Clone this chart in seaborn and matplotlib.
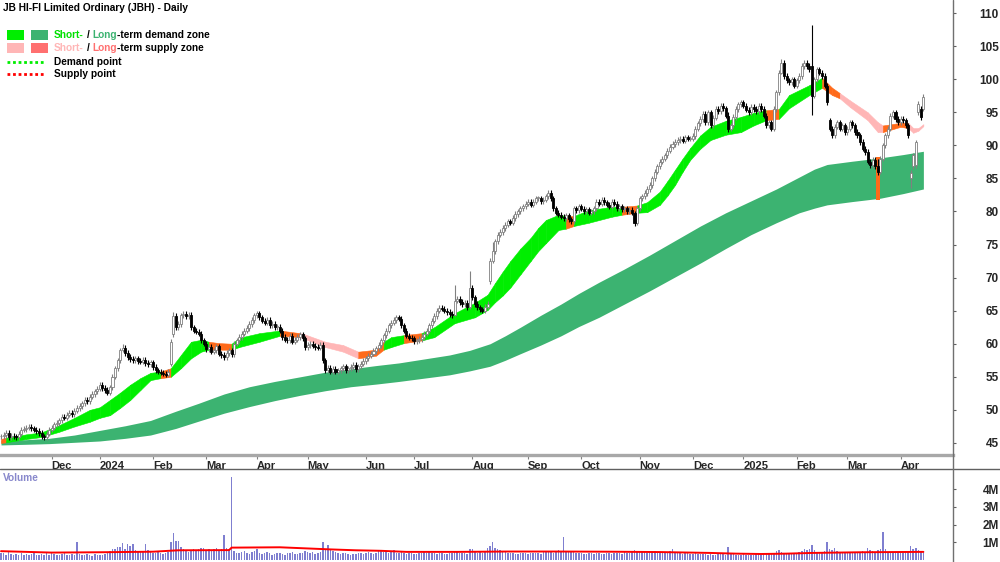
import numpy as np
import pandas as pd
import matplotlib
matplotlib.use('Agg')
import matplotlib.pyplot as plt
import seaborn as sns
from matplotlib.lines import Line2D
from matplotlib.patches import Rectangle

# --- DATA ---
START, END = '2023-11-03', '2025-04-14'
ASX_HOLIDAYS = ['2023-12-25', '2023-12-26', '2024-01-01', '2024-01-26', '2024-03-29',
                '2024-04-01', '2024-04-25', '2024-06-10', '2024-12-25', '2024-12-26',
                '2025-01-01', '2025-01-27']

# daily closes (AUD)
closes = [
    46.0, 46.2, 46.5, 45.9, 46.1, 46.0, 45.9, 46.4, 47.0, 47.1,
    47.3, 47.4, 47.2, 47.0, 46.8, 46.5, 46.0, 45.9, 46.4, 47.0,
    47.3, 47.8, 48.0, 48.4, 49.0, 48.8, 49.3, 49.6, 49.4, 49.9,
    50.3, 50.6, 51.0, 51.5, 51.3, 52.0, 52.4, 52.8, 53.2, 53.8,
    53.3, 53.0, 52.6, 53.4, 55.0, 56.3, 57.5, 59.0, 59.4, 58.6,
    58.0, 57.7, 57.5, 57.8, 57.4, 57.3, 57.6, 57.1, 56.9, 57.2,
    56.5, 56.0, 55.8, 55.6, 55.5, 55.3, 55.8, 60.3, 64.2, 62.5,
    63.0, 64.3, 64.5, 64.2, 64.4, 62.5, 62.0, 61.8, 61.5, 60.5,
    60.0, 59.2, 59.5, 58.8, 59.0, 59.6, 58.5, 58.3, 58.0, 58.6,
    59.0, 58.4, 60.0, 60.5, 61.0, 61.5, 62.0, 62.4, 63.0, 63.6,
    64.3, 64.6, 64.0, 63.5, 63.2, 63.6, 62.8, 63.0, 62.5, 62.6,
    62.0, 61.0, 60.6, 60.5, 61.2, 60.3, 60.6, 61.0, 61.4, 60.8,
    59.5, 59.8, 60.0, 59.7, 59.5, 59.4, 59.8, 57.5, 56.0, 56.4,
    55.8, 56.2, 55.8, 56.0, 56.3, 56.6, 56.0, 56.3, 56.5, 56.8,
    56.2, 56.6, 57.0, 57.4, 57.8, 58.2, 58.5, 58.9, 59.3, 59.8,
    60.5, 61.3, 62.0, 62.8, 63.2, 63.6, 64.0, 63.8, 62.8, 62.0,
    61.2, 60.9, 60.8, 60.4, 60.5, 60.7, 61.0, 61.5, 62.0, 62.8,
    63.5, 64.2, 65.0, 65.4, 65.3, 65.0, 64.8, 64.5, 64.3, 66.5,
    66.8, 66.3, 66.0, 66.2, 65.5, 68.5, 67.0, 66.0, 65.5, 65.2,
    65.0, 65.6, 66.0, 72.5, 74.0, 75.5, 76.5, 76.9, 77.5, 78.0,
    78.5, 78.3, 79.0, 79.6, 80.0, 80.5, 80.8, 81.2, 81.5, 81.0,
    81.5, 82.0, 82.0, 81.6, 81.8, 82.3, 82.8, 82.0, 80.5, 79.8,
    79.5, 79.2, 79.0, 79.4, 78.8, 78.5, 80.5, 80.2, 80.8, 80.4,
    80.0, 80.3, 79.8, 80.0, 80.5, 81.5, 81.2, 81.8, 81.4, 81.0,
    80.7, 81.5, 81.2, 80.5, 80.8, 80.3, 80.5, 80.0, 80.2, 79.8,
    78.3, 80.5, 82.0, 82.3, 82.8, 83.4, 84.0, 85.0, 86.0, 86.8,
    87.5, 88.0, 88.5, 89.2, 89.8, 90.2, 90.5, 90.8, 91.0, 90.7,
    91.2, 91.0, 91.0, 91.4, 92.5, 93.3, 94.0, 94.8, 93.5, 95.0,
    93.0, 94.2, 95.5, 95.2, 96.0, 95.6, 94.5, 92.5, 93.0, 94.3,
    95.5, 96.2, 96.5, 96.0, 95.4, 95.0, 95.8, 95.5, 95.2, 96.0,
    95.5, 94.5, 93.0, 93.5, 92.5, 95.5, 98.0, 101.0, 102.5, 100.5,
    99.8, 99.5, 100.0, 99.0, 99.8, 100.5, 102.0, 102.5, 102.0, 101.5,
    97.5, 100.0, 101.5, 101.0, 100.5, 99.0, 96.5, 92.5, 91.5, 92.8,
    93.5, 92.5, 93.0, 92.0, 92.5, 93.5, 93.0, 92.0, 91.5, 90.5,
    89.5, 89.0, 87.5, 87.0, 87.8, 86.8, 86.0, 88.0, 90.0, 91.5,
    92.5, 94.5, 95.0, 94.0, 93.5, 94.0, 93.8, 93.0, 91.5, 85.8,
    88.5, 90.5, 96.3, 94.3, 97.3,
]
# opens that gapped away from the prior close
gap_opens = {67: 57.0, 68: 61.5, 193: 69.5, 320: 102.0, 327: 93.8, 359: 85.0,
             360: 86.8, 361: 87.0, 362: 95.0, 363: 95.5, 364: 95.5}
# notable highs / lows
range_marks = {48: (59.9, 58.8), 68: (64.8, 61.0), 179: (68.9, 64.2), 185: (71.0, 65.3),
               194: (75.4, 72.2), 250: (80.0, 77.8), 287: (95.0, 92.0), 308: (103.0, 100.8),
               320: (108.2, 94.6), 346: (88.0, 85.5), 359: (86.3, 83.5), 361: (90.8, 86.5),
               364: (97.8, 95.2)}

# daily volume, thousands of shares
volume_k = [
    420, 380, 310, 450, 330, 290, 360, 300, 410, 270, 350, 280, 320, 390, 300, 260, 340, 310, 420, 290,
    380, 330, 300, 280, 350, 420, 310, 290, 360, 300, 1000, 330, 280, 300, 350, 270, 240, 320, 290, 260,
    310, 360, 420, 500, 610, 650, 750, 720, 980, 640, 900, 820, 880, 560, 480, 520, 430, 900, 560, 470,
    420, 380, 450, 400, 360, 420, 480, 1000, 1500, 1100, 1100, 760, 600, 520, 480, 560, 620, 540, 600, 660,
    700, 580, 640, 560, 620, 680, 540, 600, 1400, 700, 620, 4700, 500, 420, 380, 460, 520, 400, 360, 440,
    520, 620, 380, 340, 420, 460, 380, 300, 350, 420, 380, 340, 300, 410, 380, 460, 360, 330, 380, 420,
    520, 440, 380, 460, 360, 400, 480, 1000, 650, 850, 600, 520, 460, 400, 360, 420, 380, 340, 300, 360,
    330, 380, 420, 360, 400, 460, 380, 340, 420, 500, 560, 480, 440, 400, 500, 560, 420, 380, 460, 400,
    360, 420, 380, 320, 350, 400, 380, 440, 420, 460, 400, 380, 350, 420, 380, 340, 360, 400, 380, 520,
    460, 420, 380, 400, 360, 620, 650, 480, 420, 440, 400, 480, 700, 820, 1000, 700, 620, 560, 480, 440,
    420, 380, 400, 360, 340, 420, 380, 400, 360, 380, 420, 400, 380, 360, 440, 480, 520, 460, 420, 480,
    560, 480, 1300, 520, 460, 440, 500, 420, 380, 400, 360, 340, 400, 380, 360, 420, 380, 360, 340, 400,
    380, 360, 400, 420, 380, 360, 440, 420, 400, 460, 560, 500, 480, 440, 460, 420, 500, 480, 520, 460,
    440, 420, 480, 460, 500, 650, 440, 420, 380, 360, 400, 380, 340, 360, 380, 340, 320, 360, 340, 300,
    320, 280, 300, 340, 320, 360, 300, 750, 340, 320, 280, 260, 300, 320, 280, 260, 300, 280, 320, 340,
    300, 320, 360, 340, 380, 420, 500, 560, 480, 420, 380, 400, 360, 380, 420, 460, 500, 650, 560, 600,
    850, 560, 480, 440, 420, 500, 1000, 650, 560, 700, 520, 440, 400, 380, 420, 460, 400, 380, 440, 480,
    520, 460, 700, 560, 500, 460, 560, 600, 1600, 620, 480, 420, 400, 440, 380, 420, 400, 460, 520, 800,
    620, 700, 560, 480, 440,
]
# average volume line (trading-day index, millions)
avg_day = [0, 20, 40, 60, 70, 90, 91, 110, 120, 130, 140, 150, 160, 180, 200, 220, 240,
           260, 280, 290, 300, 310, 320, 330, 340, 364]
avg_vol = [0.50, 0.42, 0.44, 0.47, 0.55, 0.56, 0.70, 0.72, 0.66, 0.60, 0.55, 0.52, 0.46,
           0.46, 0.48, 0.48, 0.47, 0.45, 0.40, 0.36, 0.34, 0.36, 0.40, 0.42, 0.44, 0.46]

# short-term zone: day, upper, lower, zone type of the stretch that starts there
st_day = [0, 2, 10, 16, 23, 29, 35, 39, 43, 47, 51, 55, 59, 63, 67, 71, 75, 79, 82, 86,
          91, 94, 102, 110, 118, 120, 128, 135, 141, 148, 151, 154, 159, 166, 171, 179, 187, 192,
          195, 198, 201, 205, 209, 212, 215, 220, 223, 226, 232, 241, 245, 251, 255, 260, 263,
          266, 269, 272, 276, 280, 286, 292, 297, 302, 307, 311, 319, 324, 328, 331, 335, 342,
          346, 348, 355, 358, 360, 362, 364]
st_hi = [45.6, 45.8, 46.3, 46.6, 47.7, 48.8, 50.0, 50.4, 51.5, 52.6, 53.8, 54.8, 55.6, 55.8,
         56.3, 58.3, 60.3, 60.6, 60.3, 60.1, 60.0, 60.9, 61.6, 62.0, 61.6, 61.4, 60.3, 59.8,
         58.8, 59.1, 60.3, 61.0, 61.3, 61.6, 62.5, 64.6, 66.2, 67.4,
         69.2, 70.9, 72.5, 74.4, 76.0, 77.5, 78.7, 79.5, 79.3, 79.3, 80.2, 80.7, 80.7, 80.9,
         81.4, 83.0, 84.6, 86.3, 88.0, 89.6, 91.5, 92.8, 93.7, 94.3, 94.9, 95.3, 95.5, 97.6,
         99.1, 100.2, 98.7, 97.9, 96.8, 95.0, 93.5, 93.0, 93.4, 93.4, 92.6, 92.6, 93.2]
st_lo = [45.0, 45.1, 45.6, 45.9, 46.7, 47.5, 48.2, 48.8, 49.2, 50.3, 51.5, 53.0, 54.5, 54.8,
         55.0, 56.3, 57.8, 58.8, 59.1, 59.1, 59.1, 59.5, 60.3, 61.2, 61.0, 60.7, 59.5, 58.8,
         57.8, 58.2, 59.1, 59.5, 60.1, 60.5, 61.0, 63.1, 64.0, 65.1,
         66.3, 67.3, 68.5, 70.5, 72.5, 74.0, 75.2, 77.2, 77.4, 77.8, 78.3, 79.2, 79.5, 79.8,
         79.9, 81.0, 82.4, 84.0, 86.0, 87.8, 89.5, 90.8, 91.6, 92.0, 93.0, 93.8, 94.0, 95.6,
         97.6, 98.7, 97.6, 97.1, 95.8, 93.8, 92.0, 92.0, 92.8, 92.6, 91.9, 92.2, 92.9]
st_zone = ['t', 'd', 'd', 'd', 'd', 'd', 'd', 'd', 'd', 'd', 'd', 'd', 'd', 't', 'd', 'd',
           'd', 'd', 't', 't', 'd', 'd', 'd', 't', 's', 's', 's', 's', 't', 't', 'd', 'd',
           't', 'd', 'd', 'd', 'd', 'd',
           'd', 'd', 'd', 'd', 'd', 'd', 'd', 'd', 't', 'd', 'd', 'd', 't', 'd', 'd', 'd',
           'd', 'd', 'd', 'd', 'd', 'd', 'd', 'd', 'd', 't', 'd', 'd', 'd', 't', 't', 's',
           's', 's', 's', 't', 't', 's', 's', 's', 's']
# short-term zone flip in March 2025
flip_day = [345.5, 347.0]
flip_lo = [81.7, 81.7]
flip_hi = [88.3, 88.3]

# long-term demand zone
lt_day = [0, 10, 19, 29, 39, 49, 59, 69, 78, 88, 98, 108, 118, 128, 138, 148, 157, 167,
          177, 185, 193, 199, 205, 213, 221, 228, 236, 246, 256, 266, 276, 286, 296, 306,
          315, 321, 326, 336, 347, 356, 364]
lt_hi = [45.4, 45.5, 45.7, 46.2, 46.9, 47.6, 48.4, 49.8, 51.0, 52.4, 53.5, 54.3, 55.0,
         55.7, 56.2, 56.7, 57.1, 57.7, 58.3, 59.0, 60.0, 61.2, 62.5, 64.3, 66.0, 67.6, 69.3,
         71.3, 73.4, 75.6, 77.8, 79.8, 81.6, 83.4, 85.2, 86.4, 87.1, 87.6, 88.1, 88.6, 89.1]
lt_lo = [44.7, 44.8, 44.9, 45.1, 45.3, 45.7, 46.2, 47.2, 48.3, 49.5, 50.5, 51.4, 52.2,
         52.9, 53.5, 53.9, 54.3, 54.8, 55.3, 55.9, 56.6, 57.5, 58.5, 59.8, 61.2, 62.6, 64.0,
         66.0, 68.0, 70.1, 72.2, 74.4, 76.5, 78.3, 79.8, 80.5, 81.0, 81.5, 82.0, 82.7, 83.4]

# --- STYLE ---
W, H = 1000, 562
WICK = 0.4
GREEN = '#00ee00'
DKGREEN = '#3cb371'
ORANGE = '#ff6a1a'
PINK = '#ffb6b6'
SALMON = '#ff7070'
VOLCOL = '#7f7fd0'
zone_colors = {'d': GREEN, 't': ORANGE, 's': PINK}

sns.set_theme(style='white')
plt.rcParams['font.family'] = ['Liberation Sans', 'DejaVu Sans']


def fx(px):
    return px / W


def fy(py):
    return 1 - py / H


def main():
    dates = pd.bdate_range(START, END)
    dates = dates[~dates.isin(pd.to_datetime(ASX_HOLIDAYS))]
    n = min(len(closes), len(dates), len(volume_k))
    x = np.arange(n)
    c = np.array(closes[:n])
    o = np.r_[c[0], c[:-1]]
    for k, v in gap_opens.items():
        if k < n:
            o[k] = v
    hi = np.maximum(o, c) + WICK
    lo = np.minimum(o, c) - WICK
    for k, (h, l) in range_marks.items():
        if k < n:
            hi[k], lo[k] = h, l

    fig = plt.figure(figsize=(W / 100, H / 100), dpi=100)
    ax = fig.add_axes([0, fy(455), fx(953), 455 / H])
    axv = fig.add_axes([0, 0, fx(953), 93 / H])

    # zones
    ax.fill_between(lt_day, lt_lo, lt_hi, color=DKGREEN, lw=0, zorder=1)
    for i in range(len(st_day) - 1):
        col = zone_colors[st_zone[i]]
        ax.fill_between(st_day[i:i + 2], st_lo[i:i + 2], st_hi[i:i + 2],
                        color=col, lw=0.4, zorder=2)
    ax.fill_between(flip_day, flip_lo, flip_hi, color=ORANGE, lw=0, zorder=2)

    # candles
    up = c >= o
    ax.vlines(x[up], lo[up], hi[up], color='#808080', lw=0.8, zorder=3)
    ax.vlines(x[~up], lo[~up], hi[~up], color='black', lw=0.8, zorder=3)
    body = np.maximum(np.abs(c - o), 0.12)
    ax.bar(x[up], body[up], bottom=np.minimum(o, c)[up], width=0.8, color='white',
           edgecolor='#808080', lw=0.6, zorder=4)
    ax.bar(x[~up], body[~up], bottom=np.minimum(o, c)[~up], width=0.8, color='black',
           edgecolor='black', lw=0.6, zorder=4)

    ax.set_xlim((0 - 1) / 2.534, (953 - 1) / 2.534)
    ax.set_ylim(43.18, 111.97)

    # month ticks
    pos, labels = [], []
    for i in range(1, n):
        if dates[i].month != dates[i - 1].month:
            pos.append(i)
            labels.append(str(dates[i].year) if dates[i].month == 1 else dates[i].strftime('%b'))
    ax.set_xticks(pos)
    ax.set_xticklabels(labels, ha='left', fontsize=8, fontweight='bold')
    ax.tick_params(axis='x', length=3, width=0.8, color='#808080', pad=1, direction='out',
                   bottom=True)

    ax.yaxis.tick_right()
    ax.set_yticks(range(45, 111, 5))
    ax.set_yticklabels([str(v) for v in range(45, 111, 5)], fontsize=8.5, fontweight='bold')
    for lbl in ax.get_yticklabels():
        lbl.set_horizontalalignment('right')
    ax.tick_params(axis='y', length=2, width=0.8, color='#606060', pad=31, right=True,
                   direction='out')

    for side in ['top', 'left', 'right']:
        ax.spines[side].set_visible(False)
    ax.spines['bottom'].set_color('#a8a8a8')
    ax.spines['bottom'].set_linewidth(2.4)

    # volume
    v = np.array(volume_k[:n]) / 1000.0
    axv.bar(x, v, width=0.6, color=VOLCOL, lw=0, zorder=2)
    sns.lineplot(x=avg_day, y=avg_vol, ax=axv, color='#ff0000', lw=1.4, zorder=3)
    axv.set_xlim(ax.get_xlim())
    axv.set_ylim(-0.113, 5.15)
    axv.set_xticks([])
    axv.set_xlabel('')
    axv.set_ylabel('')
    axv.yaxis.tick_right()
    axv.set_yticks([1, 2, 3, 4])
    axv.set_yticklabels(['1M', '2M', '3M', '4M'], fontsize=8.5, fontweight='bold')
    for lbl in axv.get_yticklabels():
        lbl.set_horizontalalignment('right')
    axv.tick_params(axis='y', length=2, width=0.8, color='#606060', pad=31, right=True,
                    direction='out')
    for side in ['top', 'left', 'right', 'bottom']:
        axv.spines[side].set_visible(False)

    # frame lines
    fig.add_artist(Line2D([0, 1], [fy(469), fy(469)], color='#606060', lw=1.0))
    fig.add_artist(Line2D([fx(953), fx(953)], [0, 1], color='#707070', lw=1.0))

    # title and legend
    kw = dict(fontsize=7.3, fontweight='bold', va='center', ha='left')
    fig.text(fx(3), fy(8), 'JB HI-FI Limited Ordinary (JBH) - Daily', color='black', **kw)
    fig.text(fx(3), fy(478), 'Volume', color='#8888cc', **kw)

    for (x0, y0, col) in [(7, 30, GREEN), (31, 30, DKGREEN), (7, 43, PINK), (31, 43, SALMON)]:
        fig.add_artist(Rectangle((fx(x0), fy(y0 + 10)), 17 / W, 10 / H,
                                 transform=fig.transFigure, color=col, lw=0))
    fig.add_artist(Line2D([fx(7), fx(45)], [fy(62), fy(62)], color=GREEN, lw=2,
                          linestyle=(0, (1, 1))))
    fig.add_artist(Line2D([fx(7), fx(45)], [fy(74), fy(74)], color='#ff0000', lw=2,
                          linestyle=(0, (1, 1))))

    renderer = fig.canvas.get_renderer()

    def width_of(s):
        t = fig.text(0, 0, s, **kw)
        w = t.get_window_extent(renderer=renderer).width
        t.remove()
        return w

    def rich(x_px, y_px, parts):
        for i, (s, col) in enumerate(parts):
            core = s.strip()
            if not core:
                continue
            prefix = ''.join(p for p, _ in parts[:i + 1]).rstrip()
            start = width_of(prefix) - width_of(core)
            fig.text(fx(x_px + start), fy(y_px), core, color=col, **kw)

    rich(54, 35, [('Short-', '#00e000'), (' / ', 'black'), ('Long', DKGREEN),
                  ('-term demand zone', 'black')])
    rich(54, 48, [('Short-', PINK), (' / ', 'black'), ('Long', SALMON),
                  ('-term supply zone', 'black')])
    fig.text(fx(54), fy(62), 'Demand point', color='black', **kw)
    fig.text(fx(54), fy(74), 'Supply point', color='black', **kw)

    fig.savefig('out.png', dpi=100)
    plt.close(fig)


if __name__ == '__main__':
    main()
